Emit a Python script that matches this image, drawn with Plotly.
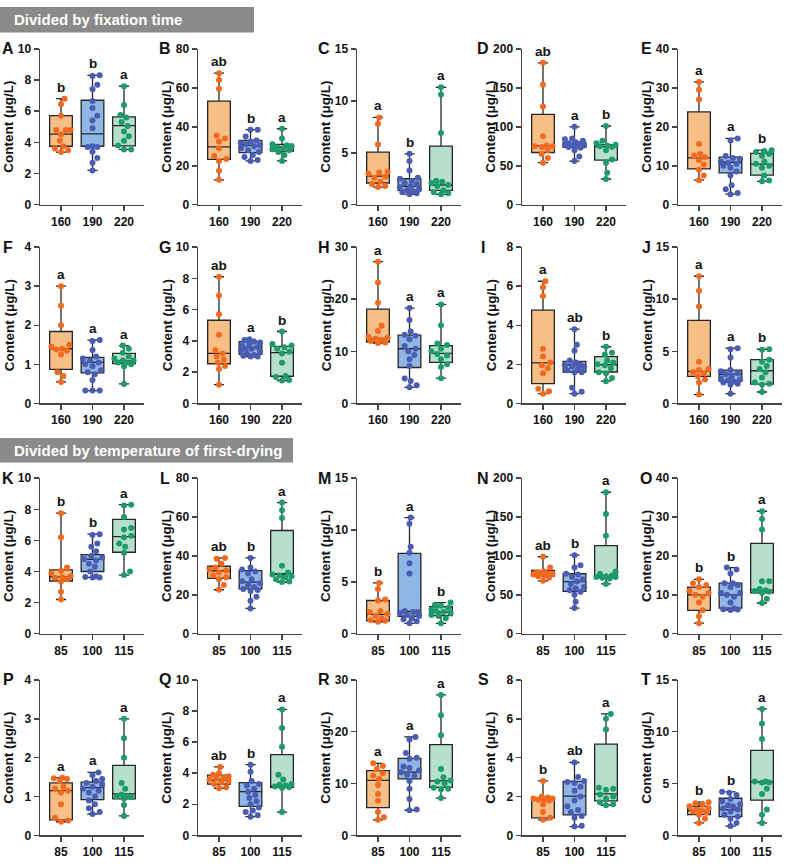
import plotly.graph_objects as go

W, H = 787, 864

# ---------------- categories ----------------
cats_time = ["160", "190", "220"]
cats_temp = ["85", "100", "115"]

# ---------------- data (µg/L) ----------------
A_160 = [6.8, 6.45, 5.7, 4.8, 4.8, 4.8, 4.5, 4.1, 3.75, 3.6, 3.5, 3.38]
A_190 = [8.3, 8.25, 7.7, 7.4, 6.65, 6.2, 5.7, 5.4, 4.9, 3.75, 3.7, 3.7, 3.4, 3.0, 2.7, 2.2]
A_220 = [7.6, 6.4, 5.75, 5.6, 5.3, 5.05, 4.7, 4.4, 4.1, 3.8, 3.55, 3.55]
A_box = [[3.75, 4.53, 5.72], [3.75, 4.55, 6.7], [3.77, 5.07, 5.64]]
A_sig = ["b", "b", "a"]

B_160 = [67.5, 64, 59.5, 35.5, 34, 32.5, 29, 25, 23.5, 22.5, 17.5, 12.8]
B_190 = [38.5, 38.5, 35, 33, 32.5, 31.5, 31, 30.5, 30, 29, 28, 27, 25.5, 24.5, 23, 22.5]
B_220 = [39, 34, 31, 30.5, 30, 29.5, 29, 28.5, 28, 27, 25.5, 22.5]
B_box = [[23.3, 29.7, 53.2], [26.7, 30.5, 33], [27.5, 29.5, 31]]
B_sig = ["ab", "b", "a"]

C_160 = [8.4, 7.8, 5.8, 3.2, 3.1, 3.0, 2.7, 2.6, 2.2, 2.0, 1.8, 1.7]
C_190 = [4.9, 4.2, 3.3, 2.6, 2.5, 2.3, 2.1, 2.0, 1.8, 1.7, 1.5, 1.4, 1.3, 1.2, 1.1, 1.0]
C_220 = [11.3, 10.6, 6.9, 2.3, 2.2, 2.1, 1.9, 1.8, 1.4, 1.2, 1.1, 1.0]
C_box = [[2.09, 2.75, 5.06], [1.39, 1.77, 2.5], [1.39, 1.9, 5.63]]
C_sig = ["a", "b", "a"]

D_160 = [182, 154, 126, 88, 76, 75, 75, 74, 70, 65, 60, 54]
D_190 = [100, 85, 84, 82, 80, 79, 78, 77, 77, 76, 75, 74, 73, 70, 62, 56]
D_220 = [101, 82, 79, 77, 76, 75, 74, 70, 58, 54, 41, 33]
D_box = [[67, 75.8, 115.8], [73.7, 77, 79.6], [57.3, 74.5, 77]]
D_sig = ["ab", "a", "b"]

E_160 = [31.5, 29.5, 27, 15.6, 13, 12.6, 12.2, 11.5, 10.3, 9.0, 7.5, 6.3]
E_190 = [17, 16.5, 12.5, 12, 11.8, 11, 10.8, 10.5, 10, 9.5, 8.5, 7.5, 5.0, 4.0, 3.0, 2.7]
E_220 = [14, 13.8, 13.5, 13, 12.5, 11, 10.5, 10, 9.5, 7.5, 6.2, 6.0]
E_box = [[9.2, 12.04, 23.8], [8.2, 10.9, 12.2], [7.6, 10.4, 13.2]]
E_sig = ["a", "a", "b"]

F_160 = [3.0, 2.5, 2.0, 1.5, 1.45, 1.4, 1.38, 1.35, 1.25, 0.8, 0.7, 0.55]
F_190 = [1.62, 1.6, 1.37, 1.2, 1.15, 1.1, 1.05, 1.0, 0.95, 0.85, 0.8, 0.75, 0.6, 0.33, 0.33, 0.33]
F_220 = [1.48, 1.4, 1.3, 1.2, 1.15, 1.1, 1.1, 1.05, 1.05, 1.0, 0.95, 0.5]
F_box = [[0.87, 1.40, 1.84], [0.78, 1.05, 1.18], [1.02, 1.09, 1.28]]
F_sig = ["a", "a", "a"]

G_160 = [8.1, 6.9, 5.7, 4.4, 3.4, 3.2, 3.0, 2.8, 2.6, 2.4, 2.2, 1.2]
G_190 = [4.1, 4.05, 3.95, 3.9, 3.8, 3.7, 3.6, 3.5, 3.5, 3.4, 3.3, 3.2, 3.1, 3.05, 3.0, 3.0]
G_220 = [4.6, 3.8, 3.7, 3.6, 3.5, 3.3, 3.2, 2.6, 1.75, 1.7, 1.5, 1.47]
G_box = [[2.54, 3.2, 5.32], [3.14, 3.6, 3.96], [1.74, 3.25, 3.65]]
G_sig = ["ab", "a", "b"]

H_160 = [27.2, 23.2, 19.3, 14.9, 13.9, 12.8, 12.6, 12.4, 12.2, 12.0, 11.7, 11.6]
H_190 = [18.3, 16, 13.8, 13.2, 13, 12.3, 11, 10.5, 10, 9.3, 8.5, 7.2, 4.8, 4.3, 3.5, 3.1]
H_220 = [19, 15, 11.5, 11.2, 10.5, 10, 9.5, 9.2, 8.5, 7.5, 7.0, 4.85]
H_box = [[11.76, 12.5, 18.1], [6.9, 10.5, 13.1], [7.9, 9.6, 11.1]]
H_sig = ["a", "a", "a"]

I_160 = [6.25, 5.95, 5.5, 2.8, 2.4, 2.1, 1.95, 1.8, 1.55, 0.75, 0.62, 0.5]
I_190 = [3.8, 3.0, 2.7, 2.2, 2.1, 2.0, 1.95, 1.9, 1.85, 1.8, 1.7, 1.6, 1.6, 0.8, 0.6, 0.5]
I_220 = [2.9, 2.6, 2.5, 2.2, 2.1, 2.0, 1.95, 1.8, 1.6, 1.55, 1.3, 1.14]
I_box = [[1.02, 2.08, 4.77], [1.61, 1.98, 2.15], [1.61, 1.98, 2.4]]
I_sig = ["a", "ab", "b"]

J_160 = [12.2, 10.8, 9.3, 4.0, 3.3, 3.2, 3.0, 2.9, 2.6, 2.3, 2.0, 0.85]
J_190 = [5.3, 5.2, 4.4, 3.2, 3.1, 2.9, 2.8, 2.6, 2.4, 2.3, 2.2, 2.1, 2.0, 1.9, 1.8, 0.94]
J_220 = [5.2, 5.15, 4.2, 4.0, 3.6, 3.3, 3.0, 2.5, 2.0, 1.9, 1.8, 1.1]
J_box = [[2.6, 3.08, 7.96], [2.14, 2.8, 3.2], [1.86, 3.14, 4.21]]
J_sig = ["a", "a", "b"]

K_85 = [7.75, 6.2, 4.25, 4.05, 3.9, 3.7, 3.65, 3.6, 3.5, 3.35, 2.7, 2.2]
K_100 = [6.4, 6.35, 5.8, 5.6, 5.3, 5.0, 4.9, 4.8, 4.7, 4.5, 4.3, 4.0, 3.7, 3.65, 3.62, 3.62]
K_115 = [8.3, 8.25, 7.5, 6.8, 6.7, 6.3, 6.2, 5.8, 5.6, 5.2, 4.0, 3.77]
K_box = [[3.39, 3.66, 4.1], [4.0, 4.78, 5.09], [5.24, 6.25, 7.35]]
K_sig = ["b", "b", "a"]

L_85 = [39, 38.5, 36, 34, 33, 32.5, 31.5, 30, 29, 28, 25, 22.6]
L_100 = [39, 34, 33, 32, 31, 28, 27, 26, 25, 24, 23, 22.5, 22, 19, 17, 13]
L_115 = [67.5, 63.5, 59.5, 35, 31.5, 30.5, 30, 29.5, 29, 28, 26.8, 26.6]
L_box = [[28.5, 32.4, 34.7], [23.1, 26.5, 32.5], [30.4, 30.7, 53.1]]
L_sig = ["ab", "b", "a"]

M_85 = [4.9, 4.3, 3.3, 3.2, 2.2, 2.1, 1.9, 1.7, 1.5, 1.3, 1.25, 1.15]
M_100 = [11.2, 10.6, 8.4, 7.8, 6.8, 5.8, 2.2, 2.1, 2.1, 2.0, 1.8, 1.7, 1.5, 1.4, 1.2, 1.0]
M_115 = [3.0, 2.8, 2.7, 2.5, 2.3, 2.2, 2.1, 2.0, 1.8, 1.7, 1.5, 1.0]
M_box = [[1.23, 1.87, 3.2], [1.68, 2.15, 7.75], [1.74, 2.09, 2.6]]
M_sig = ["b", "a", "b"]

N_85 = [99, 85, 80, 79, 78, 77, 77, 76, 75, 74, 72, 68]
N_100 = [101, 88, 85, 77, 76, 73, 70, 67, 64, 60, 58, 56, 54, 50, 41, 33]
N_115 = [182, 154, 126, 80, 77, 75, 74, 73, 73, 72, 71, 64]
N_box = [[74.2, 78.4, 81.3], [54.4, 67, 77.1], [72, 73, 113.4]]
N_sig = ["ab", "b", "a"]

O_85 = [14, 13, 12.5, 12, 11, 10.5, 10, 9.5, 8, 6.0, 4.5, 2.7]
O_100 = [17, 16.5, 15.5, 13, 13, 12.5, 12, 10.5, 10.5, 10, 9.5, 8, 6.5, 6.3, 6.2, 6.1]
O_115 = [31.5, 29.5, 26.8, 13.5, 13.5, 11.5, 11.2, 11, 10.8, 10.5, 9.0, 7.9]
O_box = [[6.0, 10.0, 12.0], [6.6, 10.0, 13.0], [10.5, 11.2, 23.25]]
O_sig = ["b", "b", "a"]

P_85 = [1.48, 1.47, 1.45, 1.4, 1.25, 1.2, 1.15, 1.1, 0.8, 0.45, 0.38, 0.35]
P_100 = [1.62, 1.55, 1.45, 1.4, 1.35, 1.3, 1.25, 1.2, 1.15, 1.1, 1.0, 0.9, 0.8, 0.7, 0.6, 0.55]
P_115 = [3.0, 2.5, 2.0, 1.35, 1.2, 1.05, 1.0, 1.0, 0.98, 0.95, 0.78, 0.5]
P_box = [[0.4, 1.15, 1.35], [0.92, 1.23, 1.37], [0.94, 1.07, 1.8]]
P_sig = ["a", "a", "a"]

Q_85 = [4.4, 4.0, 3.9, 3.8, 3.7, 3.65, 3.6, 3.5, 3.4, 3.3, 3.1, 3.03]
Q_100 = [4.55, 4.1, 3.5, 3.3, 3.2, 3.0, 2.8, 2.6, 2.4, 2.2, 2.0, 1.8, 1.6, 1.5, 1.3, 1.2]
Q_115 = [8.1, 6.9, 5.7, 3.9, 3.6, 3.3, 3.25, 3.2, 3.15, 3.1, 3.05, 1.5]
Q_box = [[3.3, 3.56, 3.87], [1.87, 2.82, 3.39], [3.09, 3.16, 5.2]]
Q_sig = ["ab", "b", "a"]

R_85 = [13.9, 13.4, 12.8, 12.0, 11.5, 10.9, 9.7, 8.0, 6.7, 4.5, 3.5, 3.0]
R_100 = [19, 18.5, 15.9, 15, 14.8, 13.3, 13, 12.5, 12.2, 11.7, 11.5, 10.5, 9.0, 7.0, 5.0, 4.85]
R_115 = [27.1, 23.2, 19.3, 12.8, 11.2, 10.6, 10.4, 10, 9.2, 9.0, 8.9, 7.2]
R_box = [[5.35, 10.6, 12.5], [10.9, 12.2, 14.84], [9.25, 10.5, 17.5]]
R_sig = ["a", "a", "a"]

S_85 = [2.8, 2.0, 1.95, 1.9, 1.9, 1.85, 1.85, 1.8, 1.6, 1.2, 0.9, 0.8]
S_100 = [3.75, 3.0, 2.8, 2.75, 2.7, 2.5, 2.3, 2.0, 1.8, 1.5, 1.3, 1.2, 1.0, 0.9, 0.5, 0.45]
S_115 = [6.25, 6.0, 5.45, 2.45, 2.4, 2.35, 2.1, 2.0, 1.9, 1.7, 1.6, 1.55]
S_box = [[0.9, 1.82, 1.92], [1.05, 2.02, 2.78], [1.77, 2.14, 4.7]]
S_sig = ["b", "ab", "a"]

T_85 = [3.2, 3.1, 3.0, 2.8, 2.6, 2.5, 2.4, 2.3, 2.2, 2.0, 1.6, 1.2]
T_100 = [4.2, 4.1, 3.9, 3.5, 3.3, 3.0, 2.9, 2.8, 2.6, 2.5, 2.3, 2.0, 1.8, 1.6, 1.2, 0.9]
T_115 = [12.2, 10.8, 9.3, 5.2, 5.2, 5.1, 5.1, 4.5, 4.0, 2.5, 2.0, 1.2]
T_box = [[2.0, 2.4, 2.8], [1.8, 2.48, 3.58], [3.4, 5.15, 8.2]]
T_sig = ["b", "b", "a"]

# y-axis maxima and tick steps per panel
y_max = [10, 80, 15, 200, 40, 4, 10, 30, 8, 15, 10, 80, 15, 200, 40, 4, 10, 30, 8, 15]
y_step = [2, 20, 5, 50, 10, 1, 2, 10, 2, 5, 2, 20, 5, 50, 10, 1, 2, 10, 2, 5]

panels = [
    ("A", [A_160, A_190, A_220], A_box, A_sig, cats_time),
    ("B", [B_160, B_190, B_220], B_box, B_sig, cats_time),
    ("C", [C_160, C_190, C_220], C_box, C_sig, cats_time),
    ("D", [D_160, D_190, D_220], D_box, D_sig, cats_time),
    ("E", [E_160, E_190, E_220], E_box, E_sig, cats_time),
    ("F", [F_160, F_190, F_220], F_box, F_sig, cats_time),
    ("G", [G_160, G_190, G_220], G_box, G_sig, cats_time),
    ("H", [H_160, H_190, H_220], H_box, H_sig, cats_time),
    ("I", [I_160, I_190, I_220], I_box, I_sig, cats_time),
    ("J", [J_160, J_190, J_220], J_box, J_sig, cats_time),
    ("K", [K_85, K_100, K_115], K_box, K_sig, cats_temp),
    ("L", [L_85, L_100, L_115], L_box, L_sig, cats_temp),
    ("M", [M_85, M_100, M_115], M_box, M_sig, cats_temp),
    ("N", [N_85, N_100, N_115], N_box, N_sig, cats_temp),
    ("O", [O_85, O_100, O_115], O_box, O_sig, cats_temp),
    ("P", [P_85, P_100, P_115], P_box, P_sig, cats_temp),
    ("Q", [Q_85, Q_100, Q_115], Q_box, Q_sig, cats_temp),
    ("R", [R_85, R_100, R_115], R_box, R_sig, cats_temp),
    ("S", [S_85, S_100, S_115], S_box, S_sig, cats_temp),
    ("T", [T_85, T_100, T_115], T_box, T_sig, cats_temp),
]

# ---------------- styling / layout geometry (pixels) ----------------
pt_colors = ["#F26A1F", "#4A5DB3", "#1E9B6B"]
box_fill = ["#F7BF88", "#8FB6E4", "#B6E0CD"]
box_line = "#262626"
axis_col = "#454545"
FONT = "Liberation Sans, Arial, sans-serif"

col_px = [40, 198, 357, 522, 678]          # y-axis line positions
letter_dx = [32, 33, 33, 39, 32]           # panel letter offset
row_px = [(42.5, 201), (244, 403), (479, 637), (684, 842)]
x_len_px = 104
cat_px = 31.5
first_px = 21
x_rng = [-first_px / cat_px, (x_len_px - first_px) / cat_px]


def swarm(vals, px_per_unit, d=6.4, maxpx=10.5, step=1.2):
    """Deterministic beeswarm-style horizontal offsets (in category units)."""
    order = sorted(range(len(vals)), key=lambda i: vals[i])
    placed = []
    offs = [0.0] * len(vals)
    cands = [0.0]
    k = 1
    while k * step <= maxpx:
        cands += [k * step, -k * step]
        k += 1
    for i in order:
        y = vals[i] * px_per_unit
        chosen = None
        bestc, bestd = 0.0, -1
        for c in cands:
            md = min([((c - px) ** 2 + (y - py) ** 2) ** 0.5 for px, py in placed] or [99])
            if md >= d:
                chosen = c
                break
            if md > bestd:
                bestd, bestc = md, c
        if chosen is None:
            chosen = bestc
        placed.append((chosen, y))
        offs[i] = chosen / cat_px
    return offs


fig = go.Figure()
annotations = []
layout_axes = {}

for idx, (name, groups, boxes, sigs, cats) in enumerate(panels):
    r, c = divmod(idx, 5)
    n = idx + 1
    xa = "x" if n == 1 else f"x{n}"
    ya = "y" if n == 1 else f"y{n}"
    ax_px = col_px[c]
    top, bot = row_px[r]
    px_per_unit = (bot - top) / y_max[idx]

    # boxes
    for g in range(3):
        vals = groups[g]
        q1, med, q3 = boxes[g]
        fig.add_trace(go.Box(
            x=[g], q1=[q1], median=[med], q3=[q3],
            lowerfence=[min(vals)], upperfence=[max(vals)],
            width=0.72, whiskerwidth=0.45,
            fillcolor=box_fill[g], line=dict(color=box_line, width=1.3),
            boxpoints=False, xaxis=xa, yaxis=ya, showlegend=False,
            hoverinfo="skip",
        ))
    # points
    for g in range(3):
        vals = groups[g]
        offs = swarm(vals, px_per_unit)
        fig.add_trace(go.Scatter(
            x=[g + o for o in offs], y=vals, mode="markers",
            marker=dict(color=pt_colors[g], size=6, line=dict(width=0)),
            xaxis=xa, yaxis=ya, showlegend=False, hoverinfo="skip",
        ))
        annotations.append(dict(
            x=g, y=max(vals), xref=xa, yref=ya, text=sigs[g], showarrow=False,
            yanchor="bottom", yshift=2,
            font=dict(family=FONT, size=13.5, color="#111", weight="bold"),
        ))

    key_x = "xaxis" if n == 1 else f"xaxis{n}"
    key_y = "yaxis" if n == 1 else f"yaxis{n}"
    layout_axes[key_x] = dict(
        domain=[ax_px / W, (ax_px + x_len_px) / W], anchor=ya,
        range=x_rng, tickvals=[0, 1, 2], ticktext=cats,
        showline=True, linecolor=axis_col, linewidth=1.5,
        ticks="outside", ticklen=5, tickwidth=1.5, tickcolor=axis_col,
        showgrid=False, zeroline=False, fixedrange=True,
        tickfont=dict(family=FONT, size=12, color="#111", weight="bold"),
    )
    layout_axes[key_y] = dict(
        domain=[1 - bot / H, 1 - top / H], anchor=xa,
        range=[0, y_max[idx]], tick0=0, dtick=y_step[idx],
        showline=True, linecolor=axis_col, linewidth=1.5,
        ticks="outside", ticklen=5, tickwidth=1.5, tickcolor=axis_col,
        showgrid=False, zeroline=False, fixedrange=True,
        tickfont=dict(family=FONT, size=12, color="#111", weight="bold"),
    )
    # y-axis title
    annotations.append(dict(
        x=(ax_px - 31) / W, y=1 - (top + bot) / 2 / H, xref="paper", yref="paper",
        text="Content (μg/L)", textangle=-90, showarrow=False,
        xanchor="center", yanchor="middle",
        font=dict(family=FONT, size=13.5, color="#111", weight="bold"),
    ))
    # panel letter
    annotations.append(dict(
        x=(ax_px - letter_dx[c]) / W, y=1 - top / H, xref="paper", yref="paper",
        text=name, showarrow=False, xanchor="center", yanchor="middle",
        font=dict(family=FONT, size=16, color="#111", weight="bold"),
    ))

# section headers
headers = [("Divided by fixation time", 0, 254, 0, 26),
           ("Divided by temperature of first-drying", 0, 293, 438, 463)]
shapes = []
for text, x0, x1, y0, y1 in headers:
    shapes.append(dict(type="rect", xref="paper", yref="paper",
                       x0=x0 / W, x1=x1 / W, y0=1 - y1 / H, y1=1 - y0 / H,
                       fillcolor="#8A8A8A", line=dict(width=0), layer="below"))
    annotations.append(dict(
        x=12 / W, y=1 - (y0 + y1) / 2 / H, xref="paper", yref="paper",
        text=text, showarrow=False, xanchor="left", yanchor="middle",
        font=dict(family=FONT, size=15, color="white", weight="bold"),
    ))

fig.update_layout(
    width=W, height=H, margin=dict(l=0, r=0, t=0, b=0),
    paper_bgcolor="white", plot_bgcolor="white",
    annotations=annotations, shapes=shapes, showlegend=False,
    **layout_axes,
)

fig.write_html(
    "out.html",
    config={"displayModeBar": False, "staticPlot": True},
    post_script="document.body.style.margin='0';document.body.style.overflow='hidden';",
)
